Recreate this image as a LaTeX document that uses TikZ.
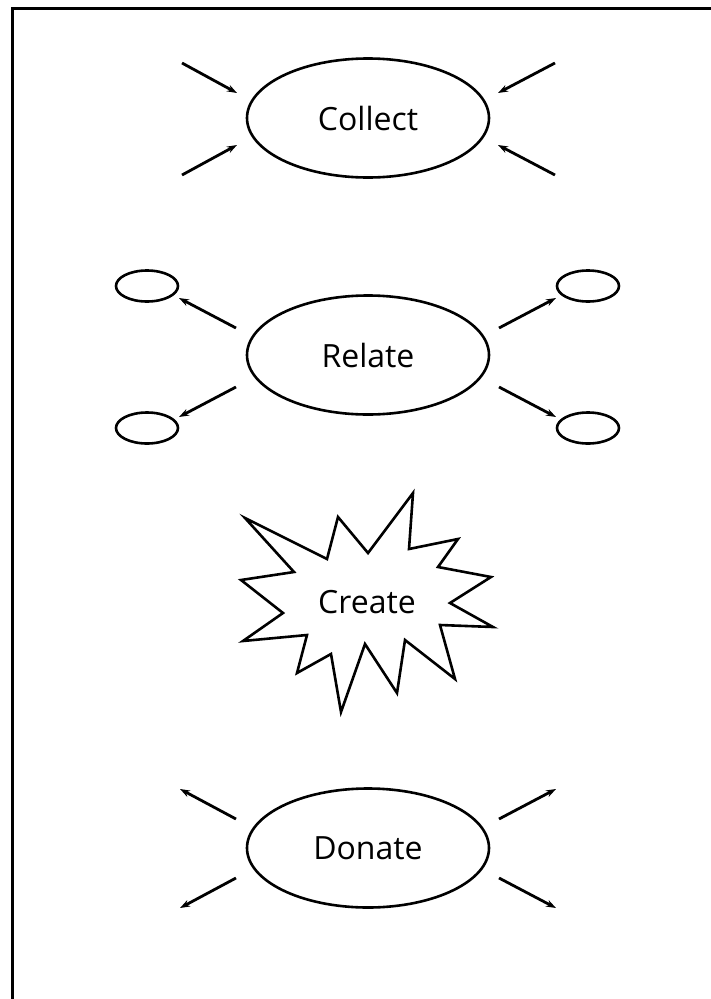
\documentclass[tikz,border=0pt]{standalone}
\usepackage{fontspec}
\setmainfont{Open Sans}
\usetikzlibrary{shapes.geometric,arrows.meta}
\begin{document}
\begin{tikzpicture}[x=1pt,y=-1pt,
  bigell/.style={draw,line width=2.6pt,ellipse,minimum width=242pt,minimum height=119pt,inner sep=0pt,font=\fontsize{32}{38}\selectfont},
  smallell/.style={draw,line width=2.6pt,ellipse,minimum width=62pt,minimum height=31pt,inner sep=0pt},
  arr/.style={line width=2.8pt,-{Stealth[length=10pt,width=7pt]}},
  lbl/.style={font=\fontsize{32}{38}\selectfont,inner sep=0pt}]
\useasboundingbox (0,0) rectangle (711,999);
\draw[line width=3pt] (12,999) -- (12,8) -- (711,8);

% Collect
\node[bigell] (collect) at (368,118) {Collect};
\coordinate (c1a) at (182,63);  \coordinate (c1b) at (237,93);
\coordinate (c2a) at (182,175); \coordinate (c2b) at (237,145);
\coordinate (c3a) at (555,63);  \coordinate (c3b) at (498,93);
\coordinate (c4a) at (555,175); \coordinate (c4b) at (498,145);
\draw[arr] (c1a) -- (c1b);
\draw[arr] (c2a) -- (c2b);
\draw[arr] (c3a) -- (c3b);
\draw[arr] (c4a) -- (c4b);

% Relate
\node[bigell] (relate) at (368,355) {Relate};
\node[smallell] (r1) at (147,286) {};
\node[smallell] (r2) at (147,428) {};
\node[smallell] (r3) at (588,286) {};
\node[smallell] (r4) at (588,428) {};
\coordinate (r1s) at (236,328); \coordinate (r1e) at (179,298);
\coordinate (r2s) at (236,387); \coordinate (r2e) at (179,417);
\coordinate (r3s) at (499,328); \coordinate (r3e) at (556,298);
\coordinate (r4s) at (499,387); \coordinate (r4e) at (556,417);
\draw[arr] (r1s) -- (r1e);
\draw[arr] (r2s) -- (r2e);
\draw[arr] (r3s) -- (r3e);
\draw[arr] (r4s) -- (r4e);

% Create
\draw[line width=2.6pt,line join=miter]
  (245,518) -- (327,559) -- (338,517) -- (368,553) -- (413,493) -- (409,549)
  -- (458,539) -- (438,567) -- (491,577) -- (450,603) -- (493,627) -- (440,625)
  -- (455,679) -- (405,640) -- (397,693) -- (365,644) -- (341,712) -- (331,654)
  -- (297,673) -- (307,635) -- (243,641) -- (283,613) -- (241,580) -- (294,572)
  -- cycle;
\node[lbl] (create) at (367,602) {Create};

% Donate
\node[bigell] (donate) at (368,848) {Donate};
\coordinate (d1s) at (236,819); \coordinate (d1e) at (180,789);
\coordinate (d2s) at (236,878); \coordinate (d2e) at (180,908);
\coordinate (d3s) at (499,819); \coordinate (d3e) at (556,789);
\coordinate (d4s) at (499,878); \coordinate (d4e) at (556,908);
\draw[arr] (d1s) -- (d1e);
\draw[arr] (d2s) -- (d2e);
\draw[arr] (d3s) -- (d3e);
\draw[arr] (d4s) -- (d4e);
\end{tikzpicture}
\end{document}
